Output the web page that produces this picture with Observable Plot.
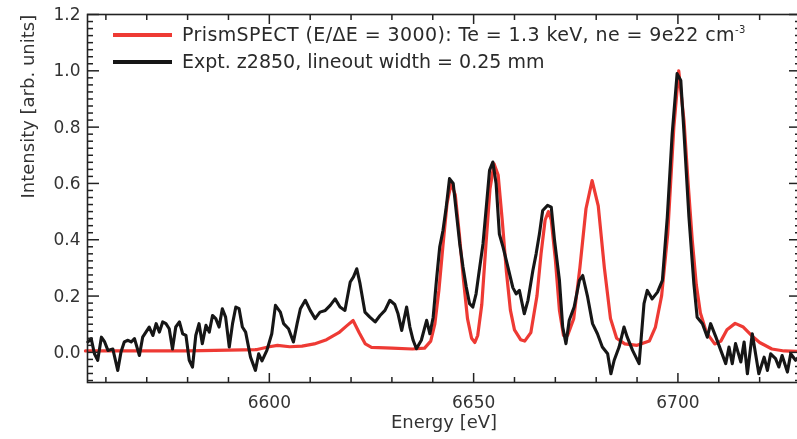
<!DOCTYPE html>
<html><head><meta charset="utf-8">
<script src="https://cdn.jsdelivr.net/npm/d3@7"></script>
<script src="https://cdn.jsdelivr.net/npm/@observablehq/plot@0.6"></script>
<style>
html,body{margin:0;padding:0;background:#fff;overflow:hidden}
#wrap{position:relative;width:797px;height:439px;overflow:hidden;filter:blur(0.6px)}
#wrap svg{max-width:none !important}
#legend{position:absolute;left:113px;top:21px;font-family:"DejaVu Sans",sans-serif;font-size:19px;color:#2a2a2a;line-height:27px}
.row{display:flex;align-items:center;white-space:nowrap;height:27px}
.row.first{letter-spacing:0.4px}
.sw{display:inline-block;width:59px;height:0;border-top:4px solid;margin-right:10px}
sup{font-size:10px;vertical-align:8px;line-height:0}
</style></head><body><div id="wrap"><div id="legend"></div></div>
<script>
// PrismSPECT model (red)
const modelEnergy = [6555,6560,6570,6580,6590,6597,6600,6602,6605,6608,6611,6614,6617,6619,6620.5,6622,6623.5,6625,6630,6635,6638,6639.5,6640.5,6641.5,6642.5,6643.5,6644.5,6645.5,6646.5,6647.5,6648.5,6649.5,6650.3,6651,6652,6653,6654,6655,6656,6657,6658,6659,6660,6661.5,6662.5,6664,6665.5,6666.5,6667.5,6668.3,6669,6670,6671,6672,6673,6674.5,6676,6677.5,6679,6680.5,6682,6683.5,6685,6687,6690,6693,6694.5,6696,6697.5,6699,6700.2,6701.5,6702.5,6703.5,6704.5,6705.5,6707,6709,6710.5,6712,6714,6716,6718,6720,6723,6726,6730];
const modelIntensity = [0.005,0.005,0.005,0.005,0.008,0.01,0.02,0.025,0.02,0.022,0.03,0.045,0.07,0.095,0.113,0.07,0.03,0.018,0.015,0.012,0.015,0.04,0.1,0.22,0.38,0.53,0.6,0.56,0.42,0.26,0.12,0.05,0.035,0.06,0.17,0.38,0.58,0.67,0.63,0.47,0.29,0.15,0.08,0.045,0.04,0.07,0.2,0.35,0.47,0.5,0.47,0.33,0.15,0.06,0.06,0.12,0.3,0.51,0.61,0.52,0.3,0.12,0.05,0.03,0.025,0.04,0.09,0.2,0.42,0.8,1.0,0.82,0.6,0.4,0.24,0.14,0.07,0.03,0.04,0.08,0.103,0.09,0.06,0.035,0.012,0.005,0.003];
// Experiment z2850 (black)
const exptEnergy = [6555.6,6556.4,6557.2,6558.0,6558.9,6559.7,6560.5,6561.7,6562.9,6563.7,6564.5,6565.4,6566.2,6567.0,6568.2,6569.0,6569.8,6570.6,6571.5,6572.3,6573.1,6573.9,6574.7,6575.5,6576.3,6577.1,6578.0,6578.8,6579.6,6580.4,6581.2,6582.0,6582.8,6583.6,6584.5,6585.3,6586.1,6586.9,6587.7,6588.5,6589.3,6590.2,6591.0,6591.8,6592.6,6593.4,6594.2,6595.4,6596.6,6597.4,6598.2,6599.4,6600.6,6601.5,6602.7,6603.5,6604.7,6605.9,6606.8,6607.6,6608.8,6610.0,6611.2,6612.4,6613.7,6614.9,6616.1,6617.3,6618.5,6619.8,6620.6,6621.4,6622.2,6623.4,6624.6,6625.9,6627.1,6628.3,6629.5,6630.7,6631.5,6632.4,6633.6,6634.4,6635.2,6636.0,6637.2,6638.5,6639.3,6640.1,6640.9,6641.7,6642.5,6643.3,6644.1,6645.0,6645.8,6646.6,6647.4,6648.2,6649.0,6649.8,6650.6,6651.5,6652.3,6653.1,6653.9,6654.7,6655.5,6656.3,6657.2,6658.4,6659.6,6660.4,6661.2,6662.4,6663.3,6664.5,6665.3,6666.1,6666.9,6668.1,6669.0,6669.8,6671.0,6671.8,6672.6,6673.4,6674.6,6675.9,6676.7,6677.9,6679.1,6680.3,6681.5,6682.8,6683.6,6684.4,6685.6,6686.8,6687.6,6688.9,6690.5,6691.7,6692.5,6693.7,6695.0,6696.2,6697.4,6698.6,6699.8,6700.7,6701.5,6702.7,6703.9,6704.7,6706.0,6707.2,6708.0,6709.3,6710.5,6711.7,6712.5,6713.3,6714.1,6715.4,6716.2,6717.0,6718.2,6719.0,6719.8,6721.1,6721.9,6722.7,6723.9,6724.7,6725.5,6726.8,6727.6,6728.8,6730];
const exptIntensity = [0.037,0.049,-0.005,-0.028,0.054,0.037,0.007,0.012,-0.064,0.001,0.037,0.043,0.037,0.049,-0.011,0.054,0.072,0.090,0.060,0.102,0.072,0.108,0.102,0.084,0.012,0.090,0.108,0.066,0.060,-0.028,-0.052,0.060,0.102,0.031,0.096,0.072,0.131,0.120,0.090,0.155,0.125,0.019,0.102,0.161,0.155,0.090,0.072,-0.017,-0.064,-0.005,-0.030,0.007,0.066,0.167,0.143,0.102,0.084,0.037,0.102,0.155,0.185,0.149,0.120,0.143,0.149,0.167,0.190,0.161,0.149,0.250,0.268,0.297,0.244,0.143,0.125,0.108,0.131,0.149,0.185,0.170,0.137,0.078,0.161,0.090,0.043,0.013,0.043,0.114,0.066,0.125,0.256,0.374,0.433,0.516,0.617,0.600,0.493,0.386,0.303,0.232,0.173,0.161,0.208,0.303,0.386,0.516,0.647,0.676,0.600,0.420,0.374,0.303,0.230,0.208,0.220,0.137,0.185,0.291,0.350,0.420,0.504,0.522,0.516,0.398,0.256,0.090,0.031,0.114,0.161,0.256,0.273,0.197,0.102,0.066,0.019,-0.005,-0.076,-0.028,0.019,0.090,0.054,0.007,-0.040,0.173,0.220,0.190,0.214,0.256,0.480,0.777,0.990,0.966,0.777,0.480,0.244,0.125,0.102,0.054,0.102,0.054,0.007,-0.040,0.019,-0.040,0.031,-0.034,0.037,-0.076,0.066,-0.005,-0.076,-0.017,-0.064,-0.005,-0.022,-0.052,-0.011,-0.070,-0.005,-0.028,-0.010];
// Ticks
const xMajor = [6600, 6650, 6700];
const xMinor = [6560,6570,6580,6590,6610,6620,6630,6640,6660,6670,6680,6690,6710,6720];
const yMajor = [0.0, 0.2, 0.4, 0.6, 0.8, 1.0, 1.2];
const yMinor = d3.range(-0.1, 1.2001, 0.025).filter(v => Math.abs(Math.round(v * 5) - v * 5) > 1e-6);
const seriesLabels = ["PrismSPECT (E/\u0394E = 3000): Te = 1.3 keV, ne = 9e22 cm", "Expt. z2850, lineout width = 0.25 mm"];
const seriesColors = ["#ee3a34", "#161616"];

const model = modelEnergy.map((e, k) => ({e, v: modelIntensity[k]}));
const expt = exptEnergy.map((e, k) => ({e, v: exptIntensity[k]}));
const fmt = d3.format(".1f");
const font = "DejaVu Sans, sans-serif";

const chart = Plot.plot({
  width: 803, height: 439,
  marginLeft: 87, marginRight: 3, marginTop: 14, marginBottom: 57,
  style: {fontFamily: font, fontSize: "17px", color: "#333", background: "white", overflow: "visible", maxWidth: "none"},
  x: {domain: [6555.5, 6730], label: null},
  y: {domain: [-0.107, 1.2], label: null},
  marks: [
    Plot.line(model, {x: "e", y: "v", stroke: seriesColors[0], strokeWidth: 3.2}),
    Plot.line(expt, {x: "e", y: "v", stroke: seriesColors[1], strokeWidth: 3.1, strokeLinejoin: "round"}),
    Plot.frame({stroke: "#222", strokeWidth: 1.6}),
    Plot.axisX(xMajor, {anchor: "bottom", tickSize: -9, tickPadding: 22, tickFormat: d => String(d), label: null, stroke: "#222", strokeWidth: 1.5}),
    Plot.axisX(xMinor, {anchor: "bottom", tickSize: -5, fill: "none", label: null, stroke: "#222", strokeWidth: 1.5}),
    Plot.axisX(xMajor, {anchor: "top", tickSize: -9, fill: "none", label: null, stroke: "#222", strokeWidth: 1.5}),
    Plot.axisX(xMinor, {anchor: "top", tickSize: -5, fill: "none", label: null, stroke: "#222", strokeWidth: 1.5}),
    Plot.axisY(yMajor, {anchor: "left", tickSize: -12, tickPadding: 19, tickFormat: fmt, label: null, stroke: "#222", strokeWidth: 1.5}),
    Plot.axisY(yMinor, {anchor: "left", tickSize: -6, fill: "none", label: null, stroke: "#222", strokeWidth: 1.5}),
    Plot.axisY(yMajor, {anchor: "right", tickSize: -12, fill: "none", label: null, stroke: "#222", strokeWidth: 1.5}),
    Plot.axisY(yMinor, {anchor: "right", tickSize: -6, fill: "none", label: null, stroke: "#222", strokeWidth: 1.5}),
    Plot.text(["Energy [eV]"], {frameAnchor: "bottom", text: d => d, dy: 45, fontSize: 18, fill: "#333"}),
    Plot.text(["Intensity [arb. units]"], {frameAnchor: "left", text: d => d, rotate: -90, dx: -59, fontSize: 18, fill: "#333"})
  ]
});
const wrap = document.getElementById("wrap");
wrap.insertBefore(chart, wrap.firstChild);

const legend = document.getElementById("legend");
seriesLabels.forEach((lab, k) => {
  const row = document.createElement("div");
  row.className = k === 0 ? "row first" : "row";
  const sw = document.createElement("span");
  sw.className = "sw";
  sw.style.borderTopColor = seriesColors[k];
  row.appendChild(sw);
  const t = document.createElement("span");
  t.textContent = lab;
  if (k === 0) { const s = document.createElement("sup"); s.textContent = "-3"; t.appendChild(s); }
  row.appendChild(t);
  legend.appendChild(row);
});
</script></body></html>
